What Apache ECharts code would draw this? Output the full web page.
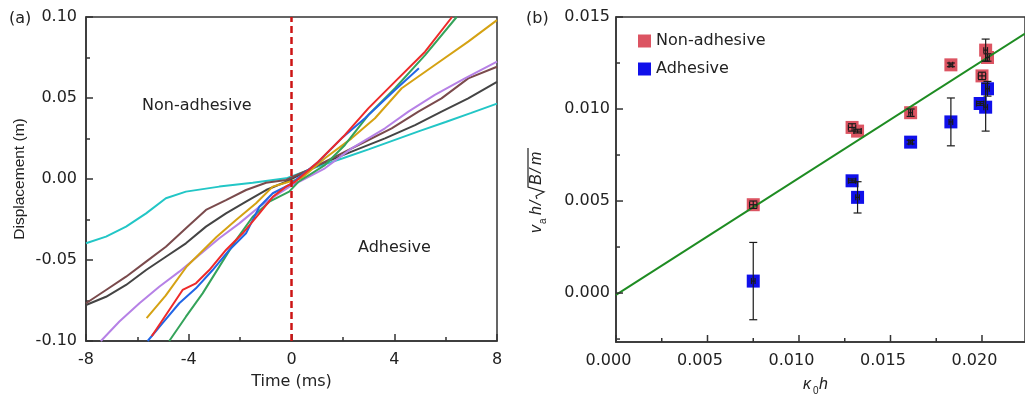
<!DOCTYPE html>
<html>
<head>
<meta charset="utf-8">
<script src="https://cdn.jsdelivr.net/npm/echarts@6/dist/echarts.min.js"></script>
<style>
  html, body { margin: 0; background: #fff; }
  #chart { width: 1025px; height: 395px; }
</style>
</head>
<body>
<div id="chart"></div>
<script>
// (a) displacement curves, time in ms, displacement in m
const redT = [-5.44, -5.28, -4.76, -4.24, -3.72, -3.2, -2.55, -1.9, -1.25, -0.73, -0.21, 0.14, 1.04, 2.08, 2.99, 4.03, 5.2, 6.25];
const redY = [-0.097, -0.0932, -0.0809, -0.0685, -0.0644, -0.0562, -0.0438, -0.0335, -0.0212, -0.011, -0.0047, -0.0017, 0.0107, 0.0272, 0.0436, 0.0601, 0.0786, 0.1];
const greenT = [-4.76, -4.11, -3.46, -2.81, -2.16, -1.51, -0.86, -0.09, 0.27, 1.3, 2.08, 2.99, 4.03, 5.2, 6.43];
const greenY = [-0.1, -0.085, -0.0706, -0.0541, -0.0377, -0.0233, -0.014, -0.0078, -0.0017, 0.0086, 0.021, 0.0395, 0.056, 0.0765, 0.1];
const blueT = [-5.6, -5.02, -4.37, -3.72, -3.07, -2.42, -1.77, -1.25, -0.73, -0.09, 1.04, 1.95, 2.86, 4.03, 4.96];
const blueY = [-0.1, -0.089, -0.0767, -0.0675, -0.0562, -0.0438, -0.0335, -0.0171, -0.0088, -0.0037, 0.0105, 0.0251, 0.0375, 0.055, 0.0683];
const goldT = [-5.64, -4.9, -4.08, -2.91, -2.16, -1.38, -0.73, -0.09, 0.39, 1.3, 2.34, 3.25, 4.29, 5.58, 6.88, 8];
const goldY = [-0.0859, -0.072, -0.054, -0.0356, -0.0253, -0.015, -0.0047, -0.0017, 0.0004, 0.0128, 0.0251, 0.0375, 0.056, 0.0704, 0.0848, 0.0981];
const purpleT = [-7.42, -6.7, -5.92, -5.15, -4.37, -3.59, -2.81, -2.03, -1.25, -0.47, 0.04, 0.39, 1.3, 2.34, 3.64, 4.55, 5.58, 6.75, 8];
const purpleY = [-0.1, -0.088, -0.0767, -0.0665, -0.0572, -0.0469, -0.0366, -0.0274, -0.0171, -0.0088, -0.0037, -0.001, 0.0066, 0.0189, 0.0313, 0.0416, 0.0519, 0.0621, 0.0725];
const brownT = [-8, -7.22, -6.44, -5.66, -4.89, -4.11, -3.33, -2.55, -1.77, -0.99, -0.21, 0.78, 1.82, 2.86, 3.9, 4.94, 5.84, 6.88, 8];
const brownY = [-0.0767, -0.0685, -0.0603, -0.051, -0.0418, -0.0304, -0.0191, -0.013, -0.0068, -0.0023, -0.0006, 0.0066, 0.0148, 0.023, 0.0313, 0.0416, 0.0498, 0.0621, 0.0693];
const grayT = [-8, -7.22, -6.44, -5.66, -4.89, -4.11, -3.33, -2.55, -1.77, -0.99, -0.21, 1.04, 2.34, 3.64, 4.81, 5.84, 6.88, 8];
const grayY = [-0.0778, -0.0727, -0.0654, -0.0562, -0.048, -0.0397, -0.0294, -0.0212, -0.014, -0.0068, -0.0017, 0.0086, 0.0169, 0.0251, 0.0333, 0.0416, 0.0498, 0.06];
const cyanT = [-8, -7.22, -6.44, -5.66, -4.89, -4.11, -2.81, -1.51, -0.21, 1, 2, 3, 4, 5, 6, 7, 8];
const cyanY = [-0.0397, -0.0356, -0.0294, -0.0212, -0.0119, -0.0078, -0.0047, -0.0023, 0.0004, 0.0075, 0.0128, 0.0183, 0.024, 0.0297, 0.0352, 0.0408, 0.0465];
const zeroT = [0, 0];
const zeroY = [-0.1, 0.1];

// (b) scaled velocity vs kappa0*h
const nonAdhX = [0.0075, 0.0129, 0.0132, 0.0161, 0.0183, 0.0200, 0.0202, 0.0203];
const nonAdhY = [0.0048, 0.0090, 0.0088, 0.0098, 0.0124, 0.0118, 0.0132, 0.0128];
const nonAdhErrY = [0.0002, 0.0002, 0.0001, 0.0002, 0.0001, 0.0002, 0.0006, 0.0002];
const nonAdhErrX = [0.0002, 0.0002, 0.0002, 0.0001, 0.0001, 0.0002, 0.0001, 0.0001];
const adhX = [0.0075, 0.0129, 0.0132, 0.0161, 0.0183, 0.0199, 0.0202, 0.0203];
const adhY = [0.00065, 0.0061, 0.0052, 0.0082, 0.0093, 0.0103, 0.0101, 0.0111];
const adhErrY = [0.0021, 0.0001, 0.00085, 0.0001, 0.0013, 0.0001, 0.0013, 0.0004];
const adhErrX = [0.0001, 0.0002, 0.0001, 0.0001, 0.0001, 0.0002, 0.0001, 0.0001];
const fitX = [0, 0.02235];
const fitY = [-0.0001, 0.0141];

const xTicksB = [0, 0.005, 0.010, 0.015, 0.020];
const xMinorB = [0.0025, 0.0075, 0.0125, 0.0175];
const yTicksB = [0, 0.005, 0.010, 0.015];
const yMinorB = [-0.0025, 0.0025, 0.0075, 0.0125];

const FONT = 'DejaVu Sans';
const INK = '#222';
const AXIS = '#333';
const X_MAX_B = 0.02235;
const Y_MIN_B = -0.00266;
const MAJOR_LEN = 7;
const MINOR_LEN = 4;

const zip = (a, b) => a.map((v, i) => [v, b[i]]);

const chart = echarts.init(document.getElementById('chart'));

const axisBase = {
  type: 'value',
  axisLine: { show: true, onZero: false, lineStyle: { color: AXIS, width: 1.5 } },
  axisTick: { show: true, inside: true, length: MAJOR_LEN, lineStyle: { color: AXIS, width: 1.5 } },
  minorTick: { show: false },
  splitLine: { show: false },
  axisLabel: { fontFamily: FONT, fontSize: 16, color: INK }
};

function curve(t, y, color) {
  return {
    type: 'line', xAxisIndex: 0, yAxisIndex: 0,
    data: zip(t, y), showSymbol: false, smooth: false,
    lineStyle: { color: color, width: 2 }, clip: true
  };
}

function errRender(params, api) {
  const x = api.value(0), y = api.value(1), ey = api.value(2), ex = api.value(3);
  const c = api.coord([x, y]);
  const top = api.coord([x, y + ey])[1];
  const bot = api.coord([x, y - ey])[1];
  const lft = api.coord([x - ex, y])[0];
  const rgt = api.coord([x + ex, y])[0];
  const cap = 4;
  const style = { stroke: '#1a1a1a', lineWidth: 1.2 };
  return {
    type: 'group',
    children: [
      { type: 'line', shape: { x1: c[0], y1: top, x2: c[0], y2: bot }, style },
      { type: 'line', shape: { x1: c[0] - cap, y1: top, x2: c[0] + cap, y2: top }, style },
      { type: 'line', shape: { x1: c[0] - cap, y1: bot, x2: c[0] + cap, y2: bot }, style },
      { type: 'line', shape: { x1: lft, y1: c[1], x2: rgt, y2: c[1] }, style },
      { type: 'line', shape: { x1: lft, y1: c[1] - 3, x2: lft, y2: c[1] + 3 }, style },
      { type: 'line', shape: { x1: rgt, y1: c[1] - 3, x2: rgt, y2: c[1] + 3 }, style }
    ]
  };
}

function errSeries(xs, ys, eys, exs) {
  return {
    type: 'custom', xAxisIndex: 1, yAxisIndex: 1, z: 5,
    renderItem: errRender,
    encode: { x: 0, y: 1 },
    data: xs.map((v, i) => [v, ys[i], eys[i], exs[i]])
  };
}

// inward tick marks for panel (b), placed through the axis scales
function tickSeries(values, dim, len) {
  return {
    type: 'custom', xAxisIndex: 1, yAxisIndex: 1, z: 6, clip: false, silent: true,
    encode: { x: 0, y: 1 },
    data: values.map(v => (dim === 'x' ? [v, Y_MIN_B] : [0, v])),
    renderItem: (params, api) => {
      const p = api.coord([api.value(0), api.value(1)]);
      const style = { stroke: AXIS, lineWidth: 1.5 };
      if (dim === 'x') {
        return { type: 'line', shape: { x1: p[0], y1: p[1], x2: p[0], y2: p[1] - len }, style };
      }
      return { type: 'line', shape: { x1: p[0], y1: p[1], x2: p[0] + len, y2: p[1] }, style };
    }
  };
}

const option = {
  backgroundColor: '#fff',
  animation: false,
  grid: [
    { left: 86, top: 17, width: 411, height: 324, show: true, borderColor: AXIS, borderWidth: 1.5, backgroundColor: 'transparent' },
    { left: 616, top: 17, right: 0, bottom: 53, show: true, borderColor: AXIS, borderWidth: 1.5, backgroundColor: 'transparent' }
  ],
  legend: {
    left: 633, top: 28, orient: 'vertical',
    itemWidth: 13, itemHeight: 13, itemGap: 12, itemTextGap: 12,
    icon: 'rect',
    textStyle: { fontFamily: FONT, fontSize: 16, color: INK, lineHeight: 16 },
    data: ['Non-adhesive', 'Adhesive']
  },
  xAxis: [
    Object.assign({}, axisBase, {
      gridIndex: 0, min: -8, max: 8, interval: 4,
      minorTick: { show: true, splitNumber: 2, length: MINOR_LEN, lineStyle: { color: AXIS, width: 1.5 } },
      axisLabel: Object.assign({}, axisBase.axisLabel, { margin: 11 }),
      name: 'Time (ms)', nameLocation: 'middle', nameGap: 33,
      nameTextStyle: { fontFamily: FONT, fontSize: 16, color: INK }
    }),
    Object.assign({}, axisBase, {
      gridIndex: 1, min: 0, max: X_MAX_B,
      axisTick: { show: false },
      axisLabel: Object.assign({}, axisBase.axisLabel, {
        customValues: xTicksB, margin: 11, padding: [0, 15, 0, 0],
        formatter: v => v.toFixed(3)
      })
    })
  ],
  yAxis: [
    Object.assign({}, axisBase, {
      gridIndex: 0, min: -0.1, max: 0.1, interval: 0.05,
      minorTick: { show: true, splitNumber: 2, length: MINOR_LEN, lineStyle: { color: AXIS, width: 1.5 } },
      axisLabel: Object.assign({}, axisBase.axisLabel, { margin: 9, formatter: v => v.toFixed(2) }),
      name: 'Displacement (m)', nameLocation: 'middle', nameGap: 58,
      nameTextStyle: { fontFamily: 'Liberation Sans', fontSize: 15.5, color: INK }
    }),
    Object.assign({}, axisBase, {
      gridIndex: 1, min: Y_MIN_B, max: 0.015,
      axisTick: { show: false },
      axisLabel: Object.assign({}, axisBase.axisLabel, {
        customValues: yTicksB, margin: 6,
        formatter: v => v.toFixed(3)
      })
    })
  ],
  series: [
    curve(cyanT, cyanY, '#22c6c6'),
    curve(grayT, grayY, '#444444'),
    curve(brownT, brownY, '#7a4a4c'),
    curve(purpleT, purpleY, '#b681e6'),
    curve(goldT, goldY, '#d5a213'),
    curve(greenT, greenY, '#34a35a'),
    curve(blueT, blueY, '#2166e6'),
    curve(redT, redY, '#ee2a2a'),
    {
      type: 'line', xAxisIndex: 0, yAxisIndex: 0, z: 4,
      data: zip(zeroT, zeroY), showSymbol: false,
      lineStyle: { color: '#cc1414', width: 2.5, type: [7, 4] }
    },
    {
      type: 'line', xAxisIndex: 1, yAxisIndex: 1,
      data: zip(fitX, fitY), showSymbol: false,
      lineStyle: { color: '#1e8c22', width: 2 }
    },
    {
      name: 'Non-adhesive', type: 'scatter', xAxisIndex: 1, yAxisIndex: 1,
      symbol: 'rect', symbolSize: 13,
      itemStyle: { color: '#dc5462', opacity: 1 },
      data: zip(nonAdhX, nonAdhY)
    },
    {
      name: 'Adhesive', type: 'scatter', xAxisIndex: 1, yAxisIndex: 1,
      symbol: 'rect', symbolSize: 13,
      itemStyle: { color: '#1010ea', opacity: 1 },
      data: zip(adhX, adhY)
    },
    errSeries(nonAdhX, nonAdhY, nonAdhErrY, nonAdhErrX),
    errSeries(adhX, adhY, adhErrY, adhErrX),
    tickSeries(xTicksB, 'x', MAJOR_LEN),
    tickSeries(xMinorB, 'x', MINOR_LEN),
    tickSeries(yTicksB, 'y', MAJOR_LEN),
    tickSeries(yMinorB, 'y', MINOR_LEN)
  ],
  graphic: [
    { type: 'text', x: 9, y: 19, style: { text: '(a)', font: '16px "DejaVu Sans"', fill: INK, textVerticalAlign: 'middle' } },
    { type: 'text', x: 526, y: 19, style: { text: '(b)', font: '16px "DejaVu Sans"', fill: INK, textVerticalAlign: 'middle' } },
    { type: 'text', x: 142, y: 106, style: { text: 'Non-adhesive', font: '16px "DejaVu Sans"', fill: INK, textVerticalAlign: 'middle' } },
    { type: 'text', x: 358, y: 248, style: { text: 'Adhesive', font: '16px "DejaVu Sans"', fill: INK, textVerticalAlign: 'middle' } },
    // x title of (b): kappa_0 h
    { type: 'text', x: 803, y: 385, style: { text: 'κ', font: 'italic 16px "Liberation Sans"', fill: INK, textVerticalAlign: 'middle' } },
    { type: 'text', x: 813, y: 391, style: { text: '0', font: '10px "Liberation Sans"', fill: INK, textVerticalAlign: 'middle' } },
    { type: 'text', x: 819, y: 385, style: { text: 'h', font: 'italic 16px "Liberation Sans"', fill: INK, textVerticalAlign: 'middle' } },
    // y title of (b): v_a h / sqrt(B/m), rotated
    {
      type: 'group', x: 542, y: 190, rotation: Math.PI / 2,
      children: [
        { type: 'text', x: -43, y: 3, style: { text: 'v', font: 'italic 16px "Liberation Sans"', fill: INK, textVerticalAlign: 'bottom' } },
        { type: 'text', x: -34, y: 6, style: { text: 'a', font: '10px "Liberation Sans"', fill: INK, textVerticalAlign: 'bottom' } },
        { type: 'text', x: -25, y: 3, style: { text: 'h', font: 'italic 16px "Liberation Sans"', fill: INK, textVerticalAlign: 'bottom' } },
        { type: 'text', x: -15, y: 3, style: { text: '/', font: 'italic 16px "Liberation Sans"', fill: INK, textVerticalAlign: 'bottom' } },
        { type: 'polyline', shape: { points: [[-9, -5], [-6, -6], [-2, 2], [3, -14], [42, -14]] }, style: { stroke: INK, lineWidth: 1.2, fill: null } },
        { type: 'text', x: 5, y: 3, style: { text: 'B', font: 'italic 16px "Liberation Sans"', fill: INK, textVerticalAlign: 'bottom' } },
        { type: 'text', x: 17, y: 3, style: { text: '/', font: 'italic 16px "Liberation Sans"', fill: INK, textVerticalAlign: 'bottom' } },
        { type: 'text', x: 25, y: 3, style: { text: 'm', font: 'italic 16px "Liberation Sans"', fill: INK, textVerticalAlign: 'bottom' } }
      ]
    }
  ]
};

chart.setOption(option);
</script>
</body>
</html>
